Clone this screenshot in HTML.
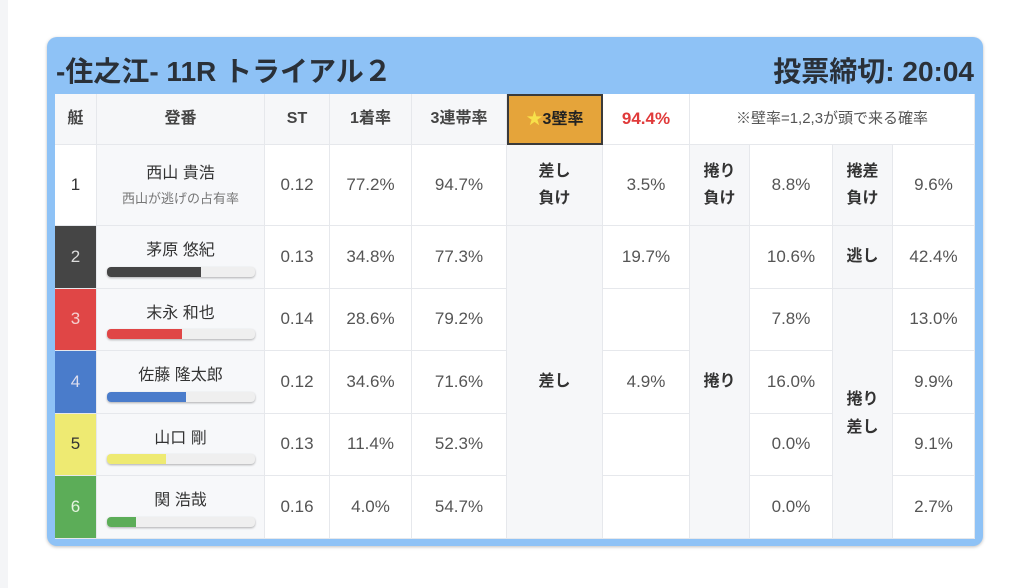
<!DOCTYPE html>
<html><head><meta charset="utf-8"><style>
body{margin:0;width:1024px;height:588px;background:#fff;font-family:"Liberation Sans","Noto Sans CJK JP",sans-serif;position:relative;overflow:hidden}
.side{position:absolute;left:0;top:0;width:8px;height:588px;background:#f4f5f7}
.card{position:absolute;left:47px;top:37px;width:936px;height:509px;background:#8ec2f6;border-radius:10px;box-shadow:0 1px 3px rgba(0,0,0,.25)}
.t{position:absolute;font-weight:bold;color:#2a3038;font-size:28px;top:50px}
.c{position:absolute;box-sizing:border-box;border-right:1px solid #e6e8ec;border-bottom:1px solid #e6e8ec;display:flex;align-items:center;justify-content:center;text-align:center;font-size:17px;color:#555;background:#fff;line-height:1.7}
.h{background:#f6f7f9;font-weight:bold;color:#444;font-size:16px}
.g{background:#f6f7f9;font-weight:bold;color:#333;font-size:16px}
.n{background:#f7f8fa;flex-direction:column;font-size:16px;color:#333}
.bar{width:148px;height:10px;border-radius:4px;background:#efefef;box-shadow:0 1px 2px rgba(0,0,0,.3);margin-top:2px;overflow:hidden;text-align:left}
.bar i{display:block;height:100%}
</style></head><body>
<div class="side"></div>
<div class="card"></div>
<div class="t" style="left:56px">-住之江- 11R トライアル２</div>
<div class="t" style="right:50px">投票締切: 20:04</div>

<div class="c h" style="left:55px;top:94px;width:42px;height:51px">艇</div>
<div class="c h" style="left:97px;top:94px;width:168px;height:51px">登番</div>
<div class="c h" style="left:265px;top:94px;width:65px;height:51px">ST</div>
<div class="c h" style="left:330px;top:94px;width:82px;height:51px">1着率</div>
<div class="c h" style="left:412px;top:94px;width:95px;height:51px">3連帯率</div>
<div class="c h" style="left:507px;top:94px;width:96px;height:51px;background:#e5a43a;border:2px solid #3a3a3a;color:#222"><span style="color:#f7e04a">★</span>3壁率</div>
<div class="c h" style="left:603px;top:94px;width:87px;height:51px;background:#fff;color:#e03a3a;font-size:17px">94.4%</div>
<div class="c" style="left:690px;top:94px;width:285px;height:51px;font-size:15px;color:#555">※壁率=1,2,3が頭で来る確率</div>

<div class="c" style="left:55px;top:145px;width:42px;height:81px;color:#333">1</div>
<div class="c n" style="left:97px;top:145px;width:168px;height:81px"><div>西山 貴浩</div><div style="font-size:13px;color:#777">西山が逃げの占有率</div></div>
<div class="c" style="left:265px;top:145px;width:65px;height:81px">0.12</div>
<div class="c" style="left:330px;top:145px;width:82px;height:81px">77.2%</div>
<div class="c" style="left:412px;top:145px;width:95px;height:81px">94.7%</div>
<div class="c g" style="left:507px;top:145px;width:96px;height:81px">差し<br>負け</div>
<div class="c" style="left:603px;top:145px;width:87px;height:81px">3.5%</div>
<div class="c g" style="left:690px;top:145px;width:60px;height:81px">捲り<br>負け</div>
<div class="c" style="left:750px;top:145px;width:83px;height:81px">8.8%</div>
<div class="c g" style="left:833px;top:145px;width:60px;height:81px">捲差<br>負け</div>
<div class="c" style="left:893px;top:145px;width:82px;height:81px">9.6%</div>

<div class="c" style="left:55px;top:226px;width:42px;height:63px;background:#454545;color:#ddd">2</div>
<div class="c" style="left:55px;top:289px;width:42px;height:62px;background:#e04646;color:#f4d0d0">3</div>
<div class="c" style="left:55px;top:351px;width:42px;height:63px;background:#4a7ccb;color:#dde">4</div>
<div class="c" style="left:55px;top:414px;width:42px;height:62px;background:#eeea72;color:#333">5</div>
<div class="c" style="left:55px;top:476px;width:42px;height:63px;background:#5cad58;color:#e6f4e0">6</div>

<div class="c n" style="left:97px;top:226px;width:168px;height:63px"><div>茅原 悠紀</div><div class="bar"><i style="width:64%;background:#454545"></i></div></div>
<div class="c n" style="left:97px;top:289px;width:168px;height:62px"><div>末永 和也</div><div class="bar"><i style="width:51%;background:#e04646"></i></div></div>
<div class="c n" style="left:97px;top:351px;width:168px;height:63px"><div>佐藤 隆太郎</div><div class="bar"><i style="width:54%;background:#4a7ccb"></i></div></div>
<div class="c n" style="left:97px;top:414px;width:168px;height:62px"><div>山口 剛</div><div class="bar"><i style="width:40%;background:#eeea72"></i></div></div>
<div class="c n" style="left:97px;top:476px;width:168px;height:63px"><div>関 浩哉</div><div class="bar"><i style="width:20%;background:#5cad58"></i></div></div>

<div class="c" style="left:265px;top:226px;width:65px;height:63px">0.13</div>
<div class="c" style="left:265px;top:289px;width:65px;height:62px">0.14</div>
<div class="c" style="left:265px;top:351px;width:65px;height:63px">0.12</div>
<div class="c" style="left:265px;top:414px;width:65px;height:62px">0.13</div>
<div class="c" style="left:265px;top:476px;width:65px;height:63px">0.16</div>

<div class="c" style="left:330px;top:226px;width:82px;height:63px">34.8%</div>
<div class="c" style="left:330px;top:289px;width:82px;height:62px">28.6%</div>
<div class="c" style="left:330px;top:351px;width:82px;height:63px">34.6%</div>
<div class="c" style="left:330px;top:414px;width:82px;height:62px">11.4%</div>
<div class="c" style="left:330px;top:476px;width:82px;height:63px">4.0%</div>

<div class="c" style="left:412px;top:226px;width:95px;height:63px">77.3%</div>
<div class="c" style="left:412px;top:289px;width:95px;height:62px">79.2%</div>
<div class="c" style="left:412px;top:351px;width:95px;height:63px">71.6%</div>
<div class="c" style="left:412px;top:414px;width:95px;height:62px">52.3%</div>
<div class="c" style="left:412px;top:476px;width:95px;height:63px">54.7%</div>

<div class="c g" style="left:507px;top:226px;width:96px;height:313px">差し</div>

<div class="c" style="left:603px;top:226px;width:87px;height:63px">19.7%</div>
<div class="c" style="left:603px;top:289px;width:87px;height:62px"></div>
<div class="c" style="left:603px;top:351px;width:87px;height:63px">4.9%</div>
<div class="c" style="left:603px;top:414px;width:87px;height:62px"></div>
<div class="c" style="left:603px;top:476px;width:87px;height:63px"></div>

<div class="c g" style="left:690px;top:226px;width:60px;height:313px">捲り</div>

<div class="c" style="left:750px;top:226px;width:83px;height:63px">10.6%</div>
<div class="c" style="left:750px;top:289px;width:83px;height:62px">7.8%</div>
<div class="c" style="left:750px;top:351px;width:83px;height:63px">16.0%</div>
<div class="c" style="left:750px;top:414px;width:83px;height:62px">0.0%</div>
<div class="c" style="left:750px;top:476px;width:83px;height:63px">0.0%</div>

<div class="c g" style="left:833px;top:226px;width:60px;height:63px">逃し</div>
<div class="c g" style="left:833px;top:289px;width:60px;height:250px">捲り<br>差し</div>

<div class="c" style="left:893px;top:226px;width:82px;height:63px">42.4%</div>
<div class="c" style="left:893px;top:289px;width:82px;height:62px">13.0%</div>
<div class="c" style="left:893px;top:351px;width:82px;height:63px">9.9%</div>
<div class="c" style="left:893px;top:414px;width:82px;height:62px">9.1%</div>
<div class="c" style="left:893px;top:476px;width:82px;height:63px">2.7%</div>
</body></html>
